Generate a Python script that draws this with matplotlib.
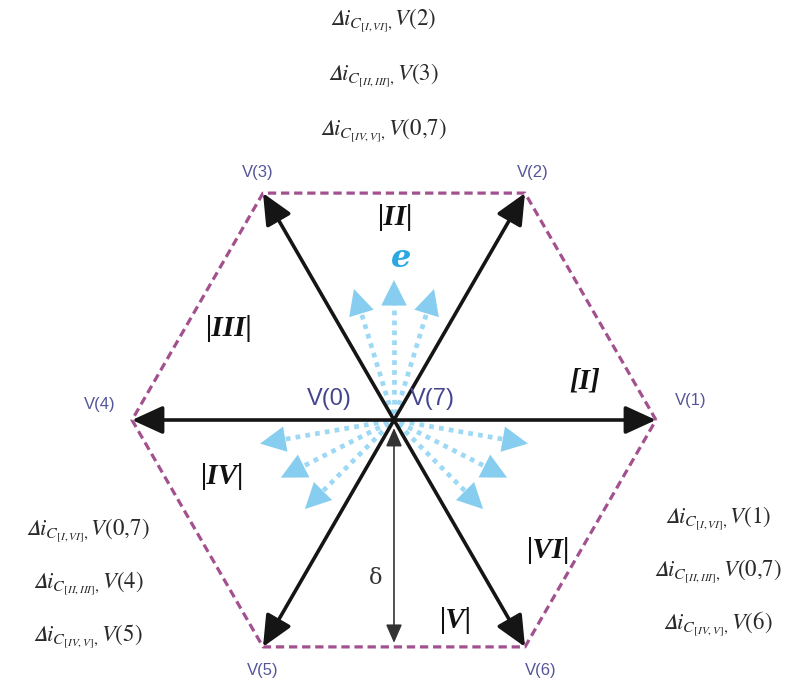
import numpy as np
import matplotlib.pyplot as plt

plt.rcParams['mathtext.fontset'] = 'stix'

# hexagon of voltage vectors (angles in degrees, y axis up)
vec_labels = ['V(1)', 'V(2)', 'V(3)', 'V(4)', 'V(5)', 'V(6)']
vec_angles = [0, 60, 120, 180, 240, 300]
label_offsets = [(35, -20), (8, -21), (-5, -21), (-32, -15), (0, 24), (16, 24)]

# light blue "e" directions
e_angles = [73, 90, 107, 190, 207, 225, 350, 333, 315]
e_lengths = [137, 140, 137, 136, 127, 126, 136, 127, 126]

# sector names and their positions
sector_names = ['|II|', '|III|', '[I]', '|IV|', '|VI|', '|V|']
sector_pos = [(395, 217), (228, 328), (585, 381), (222, 476), (548, 550), (455, 620)]

# switching tables around the hexagon
top_lines = [r'$𝛥i_{C_{[I,VI]},}V(2)$',
             r'$𝛥i_{C_{[II,III]},}V(3)$',
             r'$𝛥i_{C_{[IV,V]},}V(0{,}7)$']
left_lines = [r'$𝛥i_{C_{[I,VI]},}V(0{,}7)$',
              r'$𝛥i_{C_{[II,III]},}V(4)$',
              r'$𝛥i_{C_{[IV,V]},}V(5)$']
right_lines = [r'$𝛥i_{C_{[I,VI]},}V(1)$',
               r'$𝛥i_{C_{[II,III]},}V(0{,}7)$',
               r'$𝛥i_{C_{[IV,V]},}V(6)$']

cx, cy, R = 394, 420, 262

fig = plt.figure(figsize=(8.09, 6.85), dpi=100)
ax = fig.add_axes([0, 0, 1, 1])
ax.set_xlim(0, 809)
ax.set_ylim(685, 0)
ax.axis('off')

th = np.radians(vec_angles)
vx = cx + R * np.cos(th)
vy = cy - R * np.sin(th)

# dashed hexagon
ax.plot(np.append(vx, vx[0]), np.append(vy, vy[0]), color='#a2508e',
        lw=2.3, ls=(0, (2.6, 1.5)), zorder=1)

# blue dotted arrows
for a, L in zip(e_angles, e_lengths):
    t = np.radians(a)
    ux, uy = np.cos(t), -np.sin(t)
    hb = L - 24
    ax.plot([cx + 6 * ux, cx + hb * ux], [cy + 6 * uy, cy + hb * uy],
            color='#9dd9f4', lw=3.4, ls=(0, (1, 1.1)), zorder=2)
    ax.annotate('', xy=(cx + L * ux, cy + L * uy),
                xytext=(cx + (hb + 2) * ux, cy + (hb + 2) * uy),
                arrowprops=dict(arrowstyle='-|>,head_length=0.8,head_width=0.4',
                                mutation_scale=23, color='#86cdef', lw=0,
                                shrinkA=0, shrinkB=0), zorder=2)

# black voltage vectors
for x, y in zip(vx, vy):
    ax.annotate('', xy=(x, y), xytext=(cx, cy),
                arrowprops=dict(arrowstyle='-|>,head_length=0.7,head_width=0.32',
                                mutation_scale=27, color='#151515', lw=2.6,
                                shrinkA=0, shrinkB=0), zorder=3)

# delta distance
ax.annotate('', xy=(cx, vy[4] - 4), xytext=(cx, cy + 8),
            arrowprops=dict(arrowstyle='<|-|>,head_length=0.8,head_width=0.35',
                            mutation_scale=14, color='#333333', lw=1.2,
                            shrinkA=0, shrinkB=0), zorder=3)
ax.text(cx - 18, 578, 'δ', fontsize=16, family='DejaVu Serif',
        color='#333333', ha='center', va='center')

for lab, (dx, dy), x, y in zip(vec_labels, label_offsets, vx, vy):
    ax.text(x + dx, y + dy, lab, fontsize=12, family='Liberation Sans',
            color='#55559a', ha='center', va='center')

ax.text(329, 399, 'V(0)', fontsize=17, family='Liberation Sans',
        color='#45458f', ha='center', va='center')
ax.text(432, 399, 'V(7)', fontsize=17, family='Liberation Sans',
        color='#45458f', ha='center', va='center')

for name, (x, y) in zip(sector_names, sector_pos):
    ax.text(x, y, name, fontsize=21, family='Liberation Serif',
            style='italic', weight='bold', color='#111111',
            ha='center', va='center')

ax.text(401, 258, 'e', fontsize=23, family='DejaVu Serif', style='italic',
        weight='bold', color='#2aa8e2', ha='center', va='center')

for i, s in enumerate(top_lines):
    ax.text(383, 20 + 55 * i, s, fontsize=16.5, color='#2a2a2a',
            ha='center', va='center')
for i, s in enumerate(left_lines):
    ax.text(88, 530 + 53 * i, s, fontsize=16.5, color='#2a2a2a',
            ha='center', va='center')
for i, s in enumerate(right_lines):
    ax.text(718, 518 + 53 * i, s, fontsize=16.5, color='#2a2a2a',
            ha='center', va='center')

fig.savefig('out.png', dpi=100, facecolor='white')
